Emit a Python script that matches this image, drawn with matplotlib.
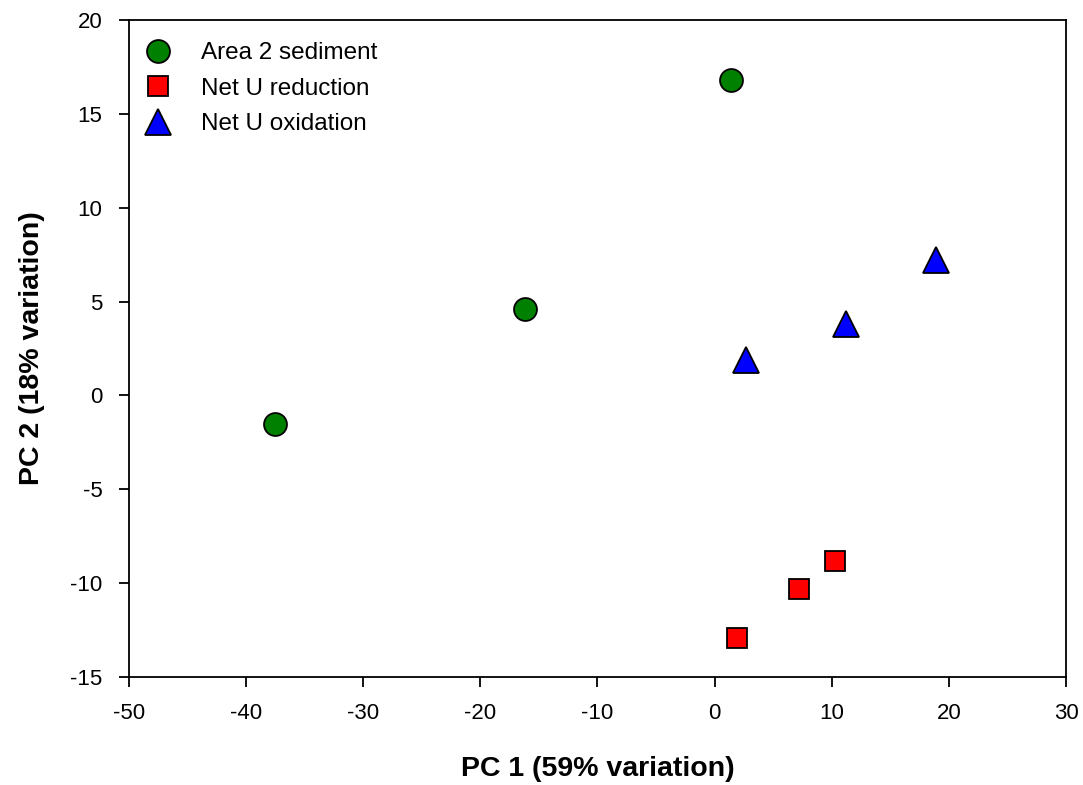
import matplotlib.pyplot as plt

plt.rcParams['font.family'] = ['Liberation Sans', 'DejaVu Sans']
plt.rcParams['axes.unicode_minus'] = False

# PCA scores per group
sed_pc1 = [1.4, -16.2, -37.5]
sed_pc2 = [16.8, 4.6, -1.5]
red_pc1 = [10.3, 7.2, 1.9]
red_pc2 = [-8.8, -10.3, -12.9]
ox_pc1 = [18.9, 11.2, 2.7]
ox_pc2 = [7.2, 3.8, 1.9]

labels = ["Area 2 sediment", "Net U reduction", "Net U oxidation"]

fig = plt.figure(figsize=(10.83, 7.85), dpi=100)
ax = fig.add_axes([0.1191, 0.1376, 0.8652, 0.8369])

ax.plot(sed_pc1, sed_pc2, 'o', ms=16.5, mfc='#008000', mec='black', mew=1.3, label=labels[0])
ax.plot(red_pc1, red_pc2, 's', ms=15, mfc='#ff0000', mec='black', mew=1.3, label=labels[1])
ax.plot(ox_pc1, ox_pc2, '^', ms=19, mfc='#0000ff', mec='black', mew=1.3, label=labels[2])

ax.set_xlim(-50, 30)
ax.set_ylim(-15, 20)
ax.set_xticks(range(-50, 31, 10))
ax.set_yticks(range(-15, 21, 5))
ax.tick_params(direction='out', length=7, width=1.3, labelsize=16, pad=12)
for s in ax.spines.values():
    s.set_linewidth(1.3)

ax.set_xlabel("PC 1 (59% variation)", fontsize=20.5, fontweight='bold', labelpad=23)
ax.set_ylabel("PC 2 (18% variation)", fontsize=20.5, fontweight='bold', labelpad=18)

ax.legend(loc='upper left', bbox_to_anchor=(0.011, 0.966), frameon=False, fontsize=17.5,
          handletextpad=1.03, labelspacing=0.55, borderaxespad=0, borderpad=0,
          handlelength=1.5)

fig.savefig("out.png", dpi=100)
